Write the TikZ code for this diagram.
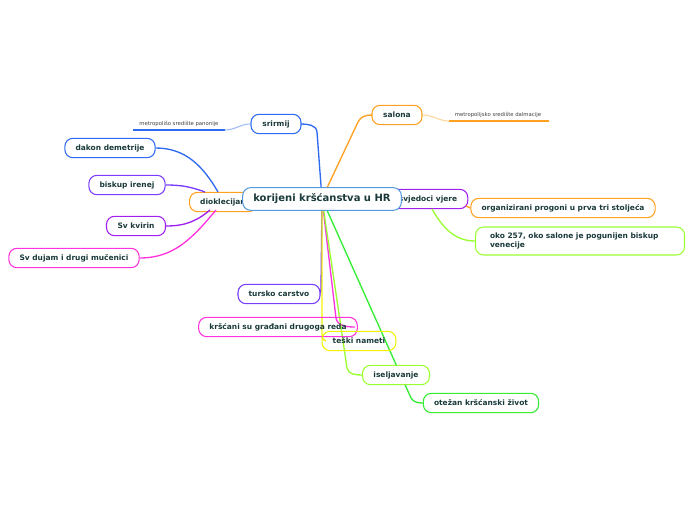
\documentclass[tikz,border=0pt]{standalone}
\usepackage{fontspec}
\setmainfont{DejaVu Sans}
\usetikzlibrary{positioning}
\definecolor{cblue}{HTML}{2F6BF0}
\definecolor{cpurple}{HTML}{7A3CFF}
\definecolor{cviolet}{HTML}{A020F0}
\definecolor{cmag}{HTML}{FF33DD}
\definecolor{corange}{HTML}{FFA020}
\definecolor{clgreen}{HTML}{99FF33}
\definecolor{cyellow}{HTML}{F2F200}
\definecolor{cgreen}{HTML}{33EE33}
\definecolor{croot}{HTML}{5599DD}
\definecolor{ctext}{HTML}{1A3A3A}
\tikzset{
  topic/.style={draw, rounded corners=6pt, fill=white, line width=0.8pt,
    font=\bfseries\fontsize{5.6}{6.6}\selectfont, text=ctext, inner xsep=8pt,
    minimum height=14.5pt},
  note/.style={font=\fontsize{4}{5}\selectfont, text=black!75},
  link/.style={line width=1pt},
}
\begin{document}
\begin{tikzpicture}[x=0.75pt,y=-0.75pt]
\useasboundingbox (0,0) rectangle (696,520);
%% edges first
\coordinate (hub) at (322,199);
\draw[link,cblue] (hub) -- (317,132) to[out=95,in=0] (301,124);
\draw[link,corange] (326,190) -- (358,122) to[out=65,in=180] (372,115);
\draw[link,cpurple] (hub) -- (321,290) to[out=-95,in=0] (318,294);
\draw[link,cmag] (hub) -- (336,318) to[out=-80,in=180] (355,327);
\draw[link,cyellow] (hub) -- (322,335) to[out=-90,in=180] (326,341);
\draw[link,clgreen] (hub) -- (347,368) to[out=-80,in=180] (363,375);
\draw[link,cgreen] (hub) -- (411,398) to[out=-60,in=180] (425,403);
%% branch nodes under root
\node[topic,draw=corange,minimum width=64*0.75pt] (diok) at (223,202) {dioklecijan};
\node[topic,draw=cviolet,minimum width=76*0.75pt] (svj) at (428,199) {svjedoci vjere};
\node[topic,draw=croot,font=\bfseries\fontsize{7.5}{9}\selectfont,minimum width=151*0.75pt,minimum height=17pt] (root) at (322,199) {korijeni kršćanstva u HR};
% left
\node[topic,draw=cblue,minimum width=50*0.75pt] (srir) at (276,124) {srirmij};
\node[note] (mpan) at (179,124) {metropolišo središte panonije};
\draw[cblue,line width=1.4pt] (133,130) -- (225,130);
\draw[link,cblue!45,line width=0.8pt] (srir.west) to[out=180,in=0] (225,130);
\node[topic,draw=cblue,minimum width=89*0.75pt] (dakon) at (110,148) {dakon demetrije};
\node[topic,draw=cpurple,minimum width=76*0.75pt] (bisk) at (127,185) {biskup irenej};
\node[topic,draw=cviolet,minimum width=59*0.75pt] (kvir) at (136,226) {Sv kvirin};
\node[topic,draw=cmag,minimum width=127*0.75pt] (duj) at (74,258) {Sv dujam i drugi mučenici};
\draw[link,cblue] (dakon.east) to[out=0,in=120] (218,192);
\draw[link,cpurple] (bisk.east) to[out=0,in=160] (205,192);
\draw[link,cviolet] (kvir.east) to[out=0,in=-140] (210,210);
\draw[link,cmag] (duj.east) to[out=0,in=-130] (216,210);
% right
\node[topic,draw=corange,minimum width=50*0.75pt] (sal) at (397,115) {salona};
\node[note] (mdal) at (498,115) {metropolijsko središte dalmacije};
\draw[corange,line width=1.4pt] (449,121) -- (549,121);
\draw[link,corange!45,line width=0.8pt] (sal.east) to[out=0,in=180] (449,121);
\node[topic,draw=corange,minimum width=178*0.75pt] (org) at (563,208) {organizirani progoni u prva tri stoljeća};
\node[topic,draw=clgreen,minimum width=209*0.75pt,minimum height=21pt,align=left,text width=180*0.75pt] (oko) at (580,241) {oko 257, oko salone je pogunijen biskup\\venecije};
\draw[link,corange] (466,206) -- (org.west);
\draw[link,clgreen] (432,209) to[out=-60,in=180] (oko.west);
% bottom
\node[topic,draw=cpurple,minimum width=81*0.75pt] (turs) at (279,294) {tursko carstvo};
\node[topic,draw=cmag,fill=none,minimum width=153*0.75pt] (krs) at (278,327) {kršćani su građani drugoga reda};
\node[topic,draw=cyellow,fill=none,minimum width=73*0.75pt] (tes) at (359,341) {teški nameti};
\node[topic,draw=clgreen,minimum width=67*0.75pt] (isel) at (396,375) {iseljavanje};
\node[topic,draw=cgreen,minimum width=112*0.75pt] (otez) at (481,403) {otežan kršćanski život};
\end{tikzpicture}
\end{document}
